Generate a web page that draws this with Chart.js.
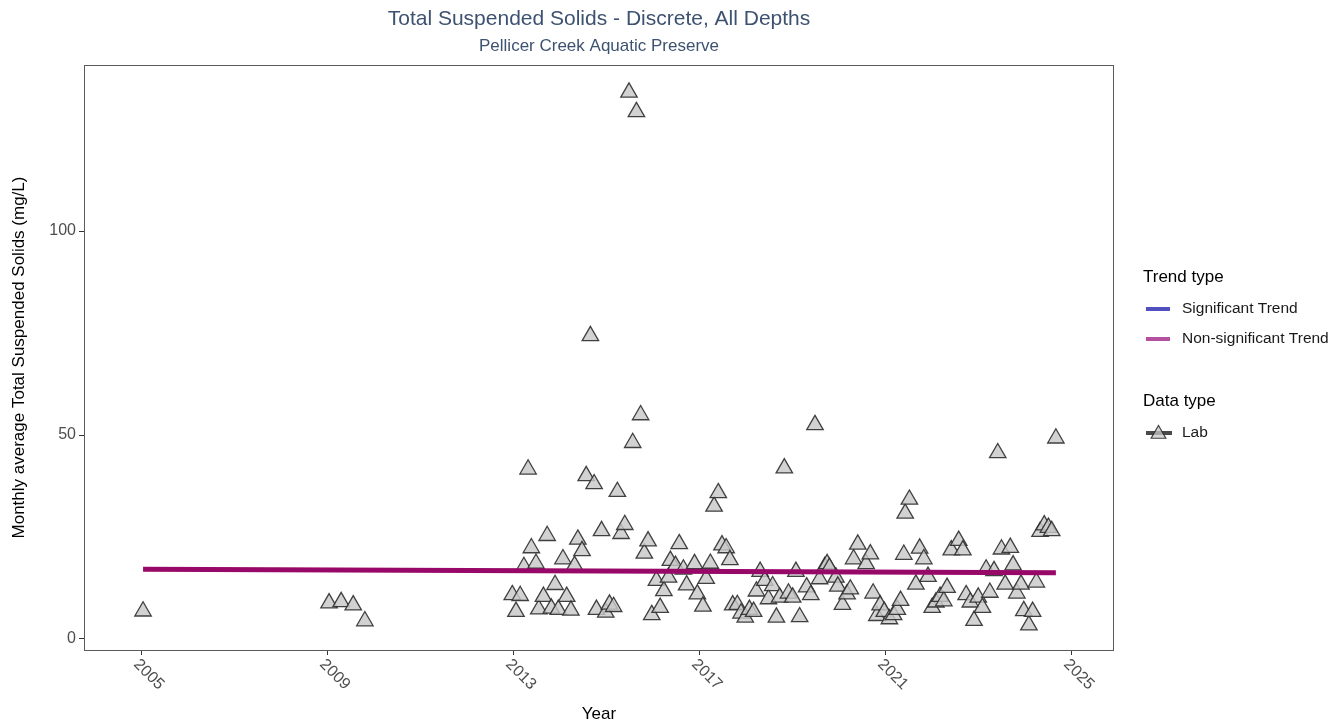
<!DOCTYPE html>
<html>
<head>
<meta charset="utf-8">
<script src="https://cdn.jsdelivr.net/npm/chart.js@4/dist/chart.umd.min.js"></script>
<style>
  html, body { margin: 0; padding: 0; background: #fff; }
  #wrap { width: 1343px; height: 728px; position: relative; }
</style>
</head>
<body>
<div id="wrap"><canvas id="tssChart" width="1343" height="728"></canvas></div>
<script>
// monthly averages (decimal year, mg/L)
const sampleYears = [
  2005.04, 2009.04, 2009.30, 2009.56, 2009.81,
  2012.98, 2013.06, 2013.15, 2013.23, 2013.32, 2013.39, 2013.49, 2013.55, 2013.65, 2013.73,
  2013.82, 2013.90, 2013.97, 2014.07, 2014.15, 2014.24, 2014.32, 2014.39, 2014.48, 2014.57,
  2014.66, 2014.74, 2014.79, 2014.90, 2014.99, 2015.07, 2015.16, 2015.24, 2015.32, 2015.40,
  2015.49, 2015.57, 2015.65, 2015.74, 2015.82, 2015.90, 2015.98, 2016.08, 2016.16, 2016.24,
  2016.34, 2016.38, 2016.49, 2016.57, 2016.66, 2016.73, 2016.90, 2016.96, 2017.08, 2017.15,
  2017.24, 2017.32, 2017.41, 2017.49, 2017.58, 2017.66, 2017.72, 2017.82, 2017.90, 2017.99,
  2018.08, 2018.17, 2018.23, 2018.31, 2018.41, 2018.49, 2018.58, 2018.66, 2018.73, 2018.83,
  2018.92, 2019.01, 2019.08, 2019.16, 2019.31, 2019.40, 2019.49, 2019.59, 2019.70, 2019.75,
  2019.80, 2019.94, 2019.98, 2020.08, 2020.18, 2020.25, 2020.32, 2020.41, 2020.59, 2020.68,
  2020.74, 2020.82, 2020.89, 2020.98, 2021.09, 2021.18, 2021.26, 2021.33, 2021.40, 2021.43,
  2021.52, 2021.66, 2021.74, 2021.83, 2021.92, 2022.01, 2022.09, 2022.18, 2022.26, 2022.33,
  2022.42, 2022.58, 2022.67, 2022.74, 2022.83, 2022.91, 2023.00, 2023.09, 2023.17, 2023.25,
  2023.34, 2023.42, 2023.50, 2023.58, 2023.69, 2023.75, 2023.83, 2023.92, 2023.98, 2024.09,
  2024.17, 2024.25, 2024.33, 2024.42, 2024.51, 2024.58, 2024.67,
];
const sampleValues = [
  6.8, 8.8, 9.1, 8.3, 4.4,
  10.8, 6.7, 10.6, 17.7, 41.6, 22.3, 18.5, 7.3, 10.4, 25.3,
  7.5, 13.3, 7.2, 19.6, 10.4, 7.0, 18.0, 24.4, 21.6, 40.0,
  74.3, 38.0, 7.2, 26.5, 6.5, 8.5, 7.9, 36.1, 25.8, 28.0,
  134.0, 48.1, 129.2, 54.9, 21.0, 24.0, 5.9, 14.3, 7.7, 11.8,
  15.1, 19.2, 18.0, 23.3, 17.1, 13.2, 18.4, 11.0, 8.0, 14.8,
  18.5, 32.5, 35.8, 23.0, 22.3, 19.4, 8.3, 8.4, 6.3, 5.3,
  7.2, 6.7, 11.7, 16.5, 14.3, 9.8, 13.0, 5.3, 10.2, 41.9,
  11.2, 10.2, 16.5, 5.4, 12.7, 10.8, 52.5, 14.7, 17.7, 18.4,
  17.5, 15.1, 12.9, 8.4, 11.0, 12.2, 19.6, 23.2, 18.4, 20.8,
  11.2, 5.7, 8.3, 6.7, 4.9, 5.9, 7.2, 9.4, 20.7, 30.8,
  34.2, 13.4, 22.2, 19.6, 15.3, 7.7, 9.0, 10.4, 9.3, 12.6,
  21.8, 24.1, 21.8, 10.8, 9.0, 4.5, 10.2, 7.7, 17.1, 11.4,
  16.7, 45.6, 22.0, 13.4, 22.4, 18.1, 11.2, 13.4, 6.9, 3.4,
  6.7, 13.9, 26.3, 27.9, 27.3, 26.5, 49.2,
];

// non-significant trend line endpoints
const trendYears = [2005.04, 2024.67];
const trendValues = [17.1, 16.25];

const xTickYears = [2005, 2009, 2013, 2017, 2021, 2025];
const yTickValues = [0, 50, 100];

const TITLE = 'Total Suspended Solids - Discrete, All Depths';
const SUBTITLE = 'Pellicer Creek Aquatic Preserve';
const Y_TITLE = 'Monthly average Total Suspended Solids (mg/L)';
const X_TITLE = 'Year';
const FONT = '"Liberation Sans", Arial, sans-serif';

const palette = {
  title: '#3d5270',
  tick: '#4d4d4d',
  frame: '#5a5a5a',
  pointFill: 'rgba(200, 200, 200, 0.82)',
  pointEdge: 'rgba(45, 45, 45, 0.9)',
  trend: '#980868',
  sigLegend: '#5050c0',
  nonSigLegend: '#b5509e',
};

const decorPlugin = {
  id: 'decor',
  afterDraw(chart) {
    const { ctx, chartArea: area, scales } = chart;
    ctx.save();

    // panel frame
    ctx.strokeStyle = palette.frame;
    ctx.lineWidth = 1;
    ctx.strokeRect(area.left + 0.5, area.top + 0.5, area.right - area.left - 1, area.bottom - area.top);

    const midX = (area.left + area.right) / 2;
    ctx.textAlign = 'center';
    ctx.textBaseline = 'middle';
    ctx.fillStyle = palette.title;
    ctx.font = `21px ${FONT}`;
    ctx.fillText(TITLE, midX, 19);
    ctx.font = `17px ${FONT}`;
    ctx.fillText(SUBTITLE, midX, 46);

    // x tick labels, slanted down to the right
    ctx.fillStyle = palette.tick;
    ctx.font = `16px ${FONT}`;
    ctx.textAlign = 'left';
    xTickYears.forEach((yr) => {
      const px = scales.x.getPixelForValue(yr);
      ctx.save();
      ctx.translate(px - 5, area.bottom + 12);
      ctx.rotate(Math.PI / 4);
      ctx.fillText(String(yr), 0, 0);
      ctx.restore();
    });

    // axis titles
    ctx.fillStyle = '#000';
    ctx.font = `17px ${FONT}`;
    ctx.textAlign = 'center';
    ctx.fillText(X_TITLE, midX, 714);
    ctx.save();
    ctx.translate(19, (area.top + area.bottom) / 2);
    ctx.rotate(-Math.PI / 2);
    ctx.fillText(Y_TITLE, 0, 0);
    ctx.restore();

    // legend
    const lx = 1143;
    ctx.textAlign = 'left';
    ctx.font = `17px ${FONT}`;
    ctx.fillText('Trend type', lx, 277);
    ctx.fillText('Data type', lx, 401);
    ctx.font = `15.5px ${FONT}`;
    ctx.fillStyle = '#1a1a1a';
    ctx.fillText('Significant Trend', 1182, 309);
    ctx.fillText('Non-significant Trend', 1182, 339);
    ctx.fillText('Lab', 1182, 433);

    ctx.lineWidth = 4;
    ctx.strokeStyle = palette.sigLegend;
    ctx.beginPath(); ctx.moveTo(1146, 309); ctx.lineTo(1170, 309); ctx.stroke();
    ctx.strokeStyle = palette.nonSigLegend;
    ctx.beginPath(); ctx.moveTo(1146, 339); ctx.lineTo(1170, 339); ctx.stroke();

    // Lab key: triangle over a dark line
    ctx.strokeStyle = '#4a4a4a';
    ctx.beginPath(); ctx.moveTo(1146, 433); ctx.lineTo(1172, 433); ctx.stroke();
    const r = 8.5, cx = 1158.5, cy = 434;
    ctx.fillStyle = 'rgba(200, 200, 200, 0.75)';
    ctx.strokeStyle = palette.pointEdge;
    ctx.lineWidth = 1.2;
    ctx.beginPath();
    ctx.moveTo(cx, cy - r);
    ctx.lineTo(cx + r * Math.sin(2 * Math.PI / 3), cy + r / 2);
    ctx.lineTo(cx - r * Math.sin(2 * Math.PI / 3), cy + r / 2);
    ctx.closePath();
    ctx.fill();
    ctx.stroke();

    ctx.restore();
  },
};

const canvas = document.getElementById('tssChart');
const ctx = canvas.getContext('2d');

new Chart(ctx, {
  type: 'scatter',
  data: {
    datasets: [
      {
        label: 'Lab',
        data: sampleYears.map((yr, i) => ({ x: yr, y: sampleValues[i] })),
        pointStyle: 'triangle',
        pointRadius: 9.5,
        pointBackgroundColor: palette.pointFill,
        pointBorderColor: palette.pointEdge,
        pointBorderWidth: 1.3,
        order: 2,
      },
      {
        type: 'line',
        label: 'Non-significant Trend',
        data: trendYears.map((yr, i) => ({ x: yr, y: trendValues[i] })),
        borderColor: palette.trend,
        borderWidth: 5,
        pointRadius: 0,
        fill: false,
        order: 1,
      },
    ],
  },
  options: {
    responsive: false,
    animation: false,
    devicePixelRatio: 1,
    layout: { padding: { top: 65, right: 229, left: 0, bottom: 0 } },
    plugins: {
      legend: { display: false },
      tooltip: { enabled: false },
      title: { display: false },
    },
    scales: {
      x: {
        type: 'linear',
        min: 2003.77,
        max: 2025.92,
        afterBuildTicks(scale) {
          scale.ticks = xTickYears.map((v) => ({ value: v }));
        },
        afterFit(scale) {
          scale.height = 78;
        },
        ticks: { display: false },
        grid: {
          drawOnChartArea: false,
          drawTicks: true,
          tickLength: 5,
          color: '#333',
        },
        border: { display: false },
      },
      y: {
        min: -2.7,
        max: 140.7,
        afterBuildTicks(scale) {
          scale.ticks = yTickValues.map((v) => ({ value: v }));
        },
        afterFit(scale) {
          scale.width = 84;
        },
        ticks: {
          color: palette.tick,
          font: { family: FONT, size: 16 },
          padding: 3,
        },
        grid: {
          drawOnChartArea: false,
          drawTicks: true,
          tickLength: 5,
          color: '#333',
        },
        border: { display: false },
      },
    },
  },
  plugins: [decorPlugin],
});
</script>
</body>
</html>
